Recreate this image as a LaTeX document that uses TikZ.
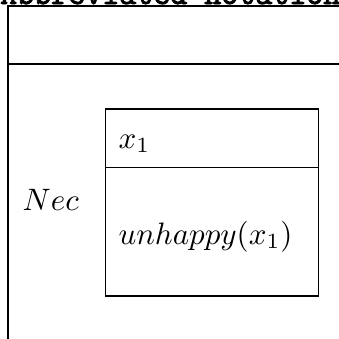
\documentclass[tikz,border=0pt]{standalone}
\usepackage{fontspec}
\newfontfamily\titlefont[FakeBold=2.5]{lmmono10-regular.otf}
\tikzset{
  frame/.style={draw=black, line width=1.5pt},
  inner/.style={draw=black, line width=1.2pt},
  mathtxt/.style={anchor=base west, inner sep=0pt, scale=3.1},
  titletxt/.style={anchor=base west, inner sep=0pt, scale=3.24, font=\titlefont}
}
\begin{document}
\begin{tikzpicture}[x=1pt,y=-1pt]
\useasboundingbox (0,0) rectangle (339,338);
\clip (0,0) rectangle (339,338);
\node[titletxt] (title) at (-0.5,4) {Abbreviated notation};
% outer box (cropped)
\coordinate (otl) at (8,6);
\coordinate (otr) at (345,6);
\coordinate (obl) at (8,345);
\coordinate (oml) at (8,64);
\coordinate (omr) at (345,64);
\draw[frame] (otr) -- (otl) -- (obl);
\draw[frame] (oml) -- (omr);
% inner box
\node[inner, rectangle, minimum width=213pt, minimum height=187pt, anchor=north west, inner sep=0pt] (box) at (105,108.3) {};
\coordinate (dl) at (105,167.7);
\coordinate (dr) at (318,167.7);
\draw[inner] (dl) -- (dr);
\node[mathtxt] (x1) at (118,148) {$x_1$};
\node[mathtxt] (nec) at (22,210) {$Nec$};
\node[mathtxt] (cond) at (118,244) {$unhappy(x_1)$};
\end{tikzpicture}
\end{document}
